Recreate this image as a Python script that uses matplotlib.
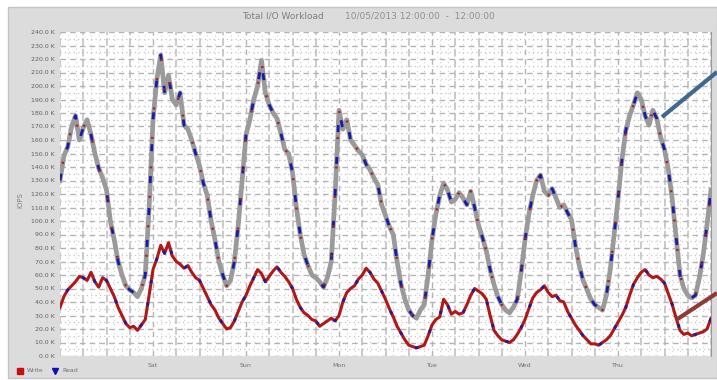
import numpy as np
import matplotlib.pyplot as plt
from matplotlib.patches import Rectangle
from matplotlib.lines import Line2D

# Hours since start of the window, hourly samples over 7 days
hours = list(range(0, 169))

# Upper series (grey band with blue/red marks), K units
total_io = [130, 148, 155, 170, 178, 160, 169, 175, 164, 150, 139, 132,
            123, 100, 86, 70, 60, 52, 49, 47, 44, 50, 60, 110,
            175, 205, 223, 195, 208, 190, 186, 195, 171, 168, 160, 150,
            141, 128, 119, 100, 86, 70, 60, 52, 56, 70, 97, 130,
            164, 175, 190, 200, 219, 195, 186, 180, 176, 165, 153, 150,
            136, 110, 90, 75, 67, 60, 58, 55, 51, 58, 70, 120,
            182, 168, 175, 160, 156, 152, 149, 142, 138, 132, 127, 112,
            104, 96, 90, 70, 53, 42, 34, 30, 28, 34, 38, 60,
            86, 105, 119, 128, 123, 114, 116, 121, 117, 112, 122, 110,
            97, 88, 78, 64, 53, 44, 38, 34, 32, 36, 42, 62,
            86, 105, 119, 130, 134, 122, 119, 124, 117, 110, 112, 106,
            101, 82, 67, 56, 49, 42, 38, 36, 34, 45, 64, 90,
            116, 145, 167, 178, 186, 195, 190, 178, 171, 182, 176, 162,
            153, 138, 116, 88, 60, 50, 45, 43, 45, 58, 75, 98,
            123]

# Lower series (red with blue marks), K units
write_io = [36, 44, 49, 52, 55, 59, 58, 56, 62, 55, 51, 58,
            56, 50, 44, 36, 30, 24, 21, 22, 19, 23, 27, 45,
            64, 72, 82, 76, 84, 74, 70, 68, 65, 67, 62, 58,
            56, 50, 44, 38, 34, 28, 24, 20, 21, 26, 33, 40,
            45, 52, 58, 64, 61, 55, 59, 63, 66, 62, 59, 55,
            50, 42, 36, 32, 30, 27, 26, 22, 24, 26, 28, 26,
            30, 40, 47, 50, 52, 57, 60, 65, 62, 57, 54, 48,
            42, 35, 29, 22, 17, 12, 8, 7, 6, 7, 8, 15,
            23, 27, 29, 42, 38, 31, 33, 31, 32, 38, 45, 50,
            48, 46, 42, 30, 19, 15, 12, 11, 10, 12, 16, 21,
            27, 35, 43, 47, 49, 52, 47, 44, 45, 41, 40, 33,
            28, 23, 19, 15, 12, 9, 9, 8, 10, 12, 15, 20,
            25, 30, 36, 45, 53, 58, 62, 64, 60, 58, 59, 57,
            54, 46, 38, 28, 19, 16, 17, 15, 16, 17, 18, 20,
            28]

day_ticks = [24, 48, 72, 96, 120, 144]
day_labels = ['Sat', 'Sun', 'Mon', 'Tue', 'Wed', 'Thu']
y_ticks = list(range(0, 250, 10))

fig = plt.figure(figsize=(7.17, 3.8), dpi=100)
W, H = 717, 380

# grey window panel
fig.add_artist(Rectangle((8 / W, 2 / H), 709 / W, 371 / H, transform=fig.transFigure,
                         facecolor='#dcdcdc', edgecolor='#c4c4c4', lw=1, zorder=-10))

ax = fig.add_axes([60 / W, 24 / H, 651 / W, 324 / H])
ax.set_facecolor('white')
ax.set_xlim(0, 168)
ax.set_ylim(0, 240)

# grid
ax.set_yticks(y_ticks)
ax.set_yticks(np.arange(5, 240, 10), minor=True)
ax.set_xticks(day_ticks)
ax.set_xticks(np.arange(0, 169, 6), minor=True)
ax.grid(which='major', color='#b4b4b4', lw=1.0, ls=(0, (4, 3)))
ax.grid(which='minor', axis='y', color='#c4c4c4', lw=0.9, ls=(0, (1, 2.5)))
for h in np.arange(2, 168, 2):
    if h % 6:
        ax.axvline(h, color='#cfcfcf', lw=0.8, ls=(0, (1, 3)), zorder=0)
ax.grid(which='minor', axis='x', color='#bcbcbc', lw=1.1, ls=(0, (5, 2)))
ax.set_axisbelow(True)

# series
ax.plot(hours, total_io, color='#9a9a9a', lw=3.4, zorder=3)
ax.plot(hours, total_io, color='#1a1aa8', lw=2.0, ls=(0, (2.5, 9)), zorder=4)
ax.plot(hours, total_io, color='#b02020', lw=1.8, ls=(5, (0.8, 11)), zorder=4)
ax.plot(hours, write_io, color='#b01818', lw=2.2, zorder=5)
ax.plot(hours, write_io, color='#1a1aa8', lw=2.0, ls=(2, (1.2, 7)), zorder=6)

for s in ['left', 'bottom', 'top']:
    ax.spines[s].set_visible(False)
ax.spines['right'].set_color('#9a9a9a')

ax.tick_params(which='both', length=0)
ax.set_yticklabels([f'{v:.1f} K' for v in y_ticks], fontsize=4.5, color='#606060')
ax.set_xticklabels(day_labels, fontsize=4.5, color='#707070')
ax.tick_params(axis='y', pad=4)
ax.tick_params(axis='x', pad=5)

fig.text(20 / W, 1 - 200 / H, 'IOPS', rotation=90, fontsize=5, color='#808080',
         ha='center', va='center')
fig.text(242 / W, 1 - 16 / H, 'Total I/O Workload', fontsize=6.5, color='#808080',
         ha='left', va='center')
fig.text(345 / W, 1 - 16 / H, '10/05/2013 12:00:00  -  12:00:00', fontsize=6.5,
         color='#909090', ha='left', va='center')

# legend at the bottom left
fig.add_artist(Line2D([20 / W], [1 - 371 / H], marker='s', color='#c01010', ms=4,
                      transform=fig.transFigure))
fig.text(27 / W, 1 - 371 / H, 'Write', fontsize=4.5, color='#707070', va='center')
fig.add_artist(Line2D([55 / W], [1 - 371 / H], marker='v', color='#1010b0', ms=4,
                      transform=fig.transFigure))
fig.text(62 / W, 1 - 371 / H, 'Read', fontsize=4.5, color='#707070', va='center')

# callout lines leaving the chart on the right
fig.add_artist(Line2D([662 / W, 717 / W], [1 - 117 / H, 1 - 72 / H], color='#3e6991',
                      lw=3, transform=fig.transFigure, solid_capstyle='butt', zorder=10))
fig.add_artist(Line2D([676 / W, 717 / W], [1 - 320 / H, 1 - 293 / H], color='#8e3b35',
                      lw=3, transform=fig.transFigure, solid_capstyle='butt', zorder=10))

fig.savefig('out.png', dpi=100)
